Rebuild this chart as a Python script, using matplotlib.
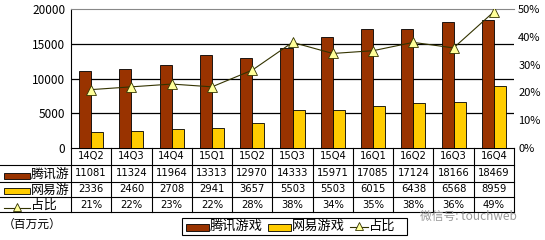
import matplotlib
matplotlib.use('Agg')
import matplotlib.pyplot as plt
from matplotlib.lines import Line2D
from matplotlib.patches import Rectangle
from matplotlib.ticker import FuncFormatter

plt.rcParams['font.family'] = ['Noto Sans CJK SC', 'DejaVu Sans']

quarters = ['14Q2', '14Q3', '14Q4', '15Q1', '15Q2', '15Q3', '15Q4', '16Q1', '16Q2', '16Q3', '16Q4']
tencent = [11081, 11324, 11964, 13313, 12970, 14333, 15971, 17085, 17124, 18166, 18469]
netease = [2336, 2460, 2708, 2941, 3657, 5503, 5503, 6015, 6438, 6568, 8959]
share = [21, 22, 23, 22, 28, 38, 34, 35, 38, 36, 49]

red = '#993300'
yellow = '#FFCC00'
W, H = 545, 240

fig = plt.figure(figsize=(W / 100, H / 100), dpi=100)
fig.patch.set_facecolor('white')


def fx(x):
    return x / W


def fy(y):
    return 1 - y / H


# plot area in pixels
L, R, T, B = 71, 514, 9, 148
ax = fig.add_axes([fx(L), fy(B), fx(R) - fx(L), fy(T) - fy(B)])
n = len(quarters)
xs = list(range(n))
bw = 0.3
ax.bar([x - bw / 2 for x in xs], tencent, bw, color=red, edgecolor='black', linewidth=0.6, zorder=3)
ax.bar([x + bw / 2 for x in xs], netease, bw, color=yellow, edgecolor='black', linewidth=0.6, zorder=3)
ax.set_xlim(-0.5, n - 0.5)
ax.set_ylim(0, 20000)
ax.set_yticks([0, 5000, 10000, 15000, 20000])
ax.set_xticks([])
ax.tick_params(axis='y', length=0, labelsize=8.5, pad=4)
for v in [5000, 10000, 15000]:
    ax.axhline(v, color='black', lw=0.9, zorder=1)
ax.spines['right'].set_visible(False)
ax.spines['top'].set_color('#888888')
ax.spines['left'].set_linewidth(0.8)
ax.spines['bottom'].set_linewidth(0.8)

ax2 = ax.twinx()
ax2.plot(xs, share, color='#333300', lw=0.8, marker='^', markersize=6.5,
         markerfacecolor='#FFFF99', markeredgecolor='#333300', markeredgewidth=0.6, zorder=4)
ax2.set_ylim(0, 50)
ax2.set_yticks([0, 10, 20, 30, 40, 50])
ax2.yaxis.set_major_formatter(FuncFormatter(lambda v, p: '%d%%' % v))
ax2.tick_params(axis='y', length=0, labelsize=8, pad=3)
for s in ['right', 'top', 'left', 'bottom']:
    ax2.spines[s].set_visible(False)

# data table under the chart
rows = [148, 165, 182, 197, 212]
cw = (R - L) / n


def hline(x0, x1, y, **kw):
    fig.add_artist(Line2D([fx(x0), fx(x1)], [fy(y), fy(y)], color='black', lw=0.8, **kw))


def vline(x, y0, y1, **kw):
    fig.add_artist(Line2D([fx(x), fx(x)], [fy(y0), fy(y1)], color='black', lw=0.8, **kw))


for y in rows[1:]:
    hline(0, R, y)
vline(L, rows[0], rows[-1])
vline(R, rows[0], rows[-1])
for i in range(1, n):
    vline(L + i * cw, rows[0], rows[-1])

cell_rows = [quarters, [str(v) for v in tencent], [str(v) for v in netease], ['%d%%' % v for v in share]]
for r, vals in enumerate(cell_rows):
    yc = (rows[r] + rows[r + 1]) / 2
    for i, t in enumerate(vals):
        fig.text(fx(L + (i + 0.5) * cw), fy(yc), t, ha='center', va='center', fontsize=7.2,
                 family='DejaVu Sans')

# row labels with keys
labels = ['腾讯游', '网易游', '占比']
for r, lab in enumerate(labels):
    y0, y1 = rows[r + 1], rows[r + 2]
    if r < 2:
        fig.add_artist(Rectangle((fx(4), fy(y1 - 3)), fx(26), fy(y1 - 9) - fy(y1 - 3),
                                 facecolor=[red, yellow][r], edgecolor='black', lw=0.6))
    else:
        fig.add_artist(Line2D([fx(4), fx(30)], [fy(y1 - 4), fy(y1 - 4)], color='#333300', lw=0.8))
        fig.add_artist(Line2D([fx(17)], [fy(y1 - 5)], marker='^', markersize=6,
                              markerfacecolor='#FFFF99', markeredgecolor='#333300', markeredgewidth=0.6))
    fig.text(fx(31), fy((y0 + y1) / 2 + 1), lab, ha='left', va='center', fontsize=9.3)

fig.text(fx(3), fy(224), '（百万元）', ha='left', va='center', fontsize=8.5)

# legend box
fig.add_artist(Rectangle((fx(182), fy(235)), fx(407) - fx(182), fy(218) - fy(235),
                         facecolor='white', edgecolor='black', lw=0.8))
fig.add_artist(Rectangle((fx(186), fy(231)), fx(23), fy(224) - fy(231),
                         facecolor=red, edgecolor='black', lw=0.6))
fig.text(fx(210), fy(226.5), '腾讯游戏', ha='left', va='center', fontsize=9.5)
fig.add_artist(Rectangle((fx(268), fy(231)), fx(23), fy(224) - fy(231),
                         facecolor=yellow, edgecolor='black', lw=0.6))
fig.text(fx(292), fy(226.5), '网易游戏', ha='left', va='center', fontsize=9.5)
fig.add_artist(Line2D([fx(350), fx(368)], [fy(227), fy(227)], color='#333300', lw=0.8))
fig.add_artist(Line2D([fx(359)], [fy(226)], marker='^', markersize=6,
                      markerfacecolor='#FFFF99', markeredgecolor='#333300', markeredgewidth=0.6))
fig.text(fx(369), fy(226.5), '占比', ha='left', va='center', fontsize=9.5)

# watermark
fig.text(fx(420), fy(216), '微信号: touchweb', ha='left', va='center', fontsize=8.5,
         color='#999999')

fig.savefig('out.png', dpi=100)
